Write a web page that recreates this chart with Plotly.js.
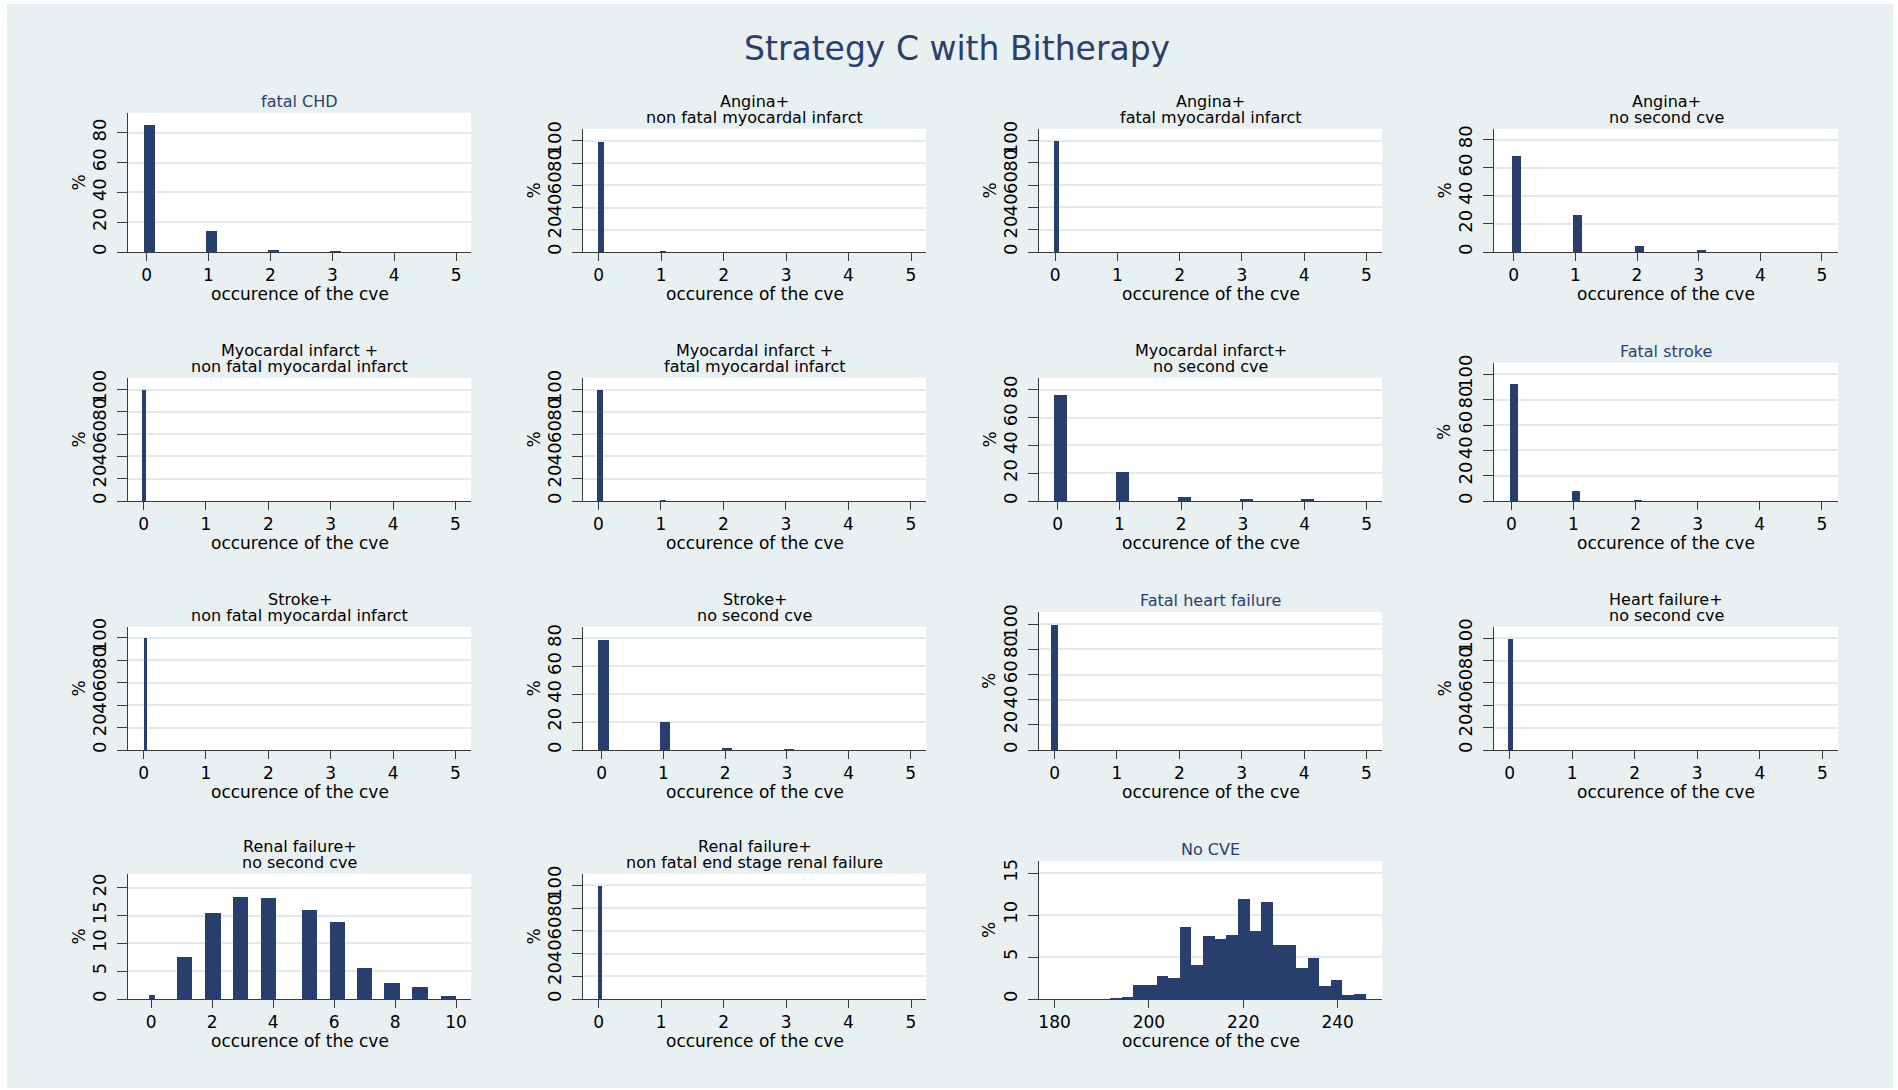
<!DOCTYPE html>
<html>
<head>
<meta charset="utf-8">
<script src="https://cdn.plot.ly/plotly-3.0.1.min.js"></script>
<style>
  html, body { margin: 0; padding: 0; background: #ffffff; width: 1898px; height: 1090px; overflow: hidden; }
  #chart { position: absolute; left: 7px; top: 4px; width: 1886px; height: 1084px; }
</style>
</head>
<body>
<div id="chart"></div>
<script>
// ---------------- DATA ----------------
const mainTitle = "Strategy C with Bitherapy";
const xAxisLabel = "occurence of the cve";
const yAxisLabel = "%";

const occurrences = [0, 1, 2, 3, 4, 5];

const fatalCHD            = [85.0, 14.0, 1.2, 0.6, 0, 0];
const anginaNonFatalMI    = [98.8, 1.2, 0, 0, 0, 0];
const anginaFatalMI       = [99.7, 0.3, 0, 0, 0, 0];
const anginaNoSecond      = [68.4, 26.1, 4.6, 1.2, 0, 0];
const miNonFatalMI        = [99.6, 0.4, 0, 0, 0, 0];
const miFatalMI           = [99.5, 0.5, 0, 0, 0, 0];
const miNoSecond          = [76.3, 20.9, 2.6, 1.1, 1.1, 0];
const fatalStroke         = [92.5, 7.6, 1.0, 0, 0, 0];
const strokeNonFatalMI    = [99.7, 0.3, 0, 0, 0, 0];
const strokeNoSecond      = [78.5, 19.9, 1.7, 0.9, 0, 0];
const fatalHeartFailure   = [99.7, 0.3, 0, 0, 0, 0];
const heartFailureNoSecond= [99.6, 0.4, 0, 0, 0, 0];
const renalNonFatalESRF   = [99.7, 0.3, 0, 0, 0, 0];

// Renal failure + no second cve (bin positions)
const renalBins     = [0.04, 1.09, 2.03, 2.93, 3.85, 5.19, 6.10, 7.00, 7.90, 8.82, 9.74];
const renalNoSecond = [0.8, 7.6, 15.5, 18.3, 18.1, 16.0, 13.9, 5.6, 2.8, 2.2, 0.5];

// No CVE histogram (lower bin edges and percentages)
const noCveBinLow = [191.80, 194.26, 196.72, 199.18, 201.64, 204.10, 206.56, 209.02, 211.48, 213.94, 216.40,
                     218.86, 221.32, 223.78, 226.24, 228.70, 231.16, 233.62, 236.08, 238.54, 241.00, 243.46];
const noCvePct    = [0.16, 0.24, 1.63, 1.63, 2.70, 2.50, 8.53, 4.09, 7.46, 7.14, 7.66,
                     11.87, 8.13, 11.55, 6.47, 6.47, 3.65, 4.88, 1.50, 2.26, 0.48, 0.63];

const panelTitles = [
  ["fatal CHD"],
  ["Angina+", "non fatal myocardal infarct"],
  ["Angina+", "fatal myocardal infarct"],
  ["Angina+", "no second cve"],
  ["Myocardal infarct +", "non fatal myocardal infarct"],
  ["Myocardal infarct +", "fatal myocardal infarct"],
  ["Myocardal infarct+", "no second cve"],
  ["Fatal stroke"],
  ["Stroke+", "non fatal myocardal infarct"],
  ["Stroke+", "no second cve"],
  ["Fatal heart failure"],
  ["Heart failure+", "no second cve"],
  ["Renal failure+", "no second cve"],
  ["Renal failure+", "non fatal end stage renal failure"],
  ["No CVE"]
];

const xTicks05  = [0, 1, 2, 3, 4, 5];
const xTicks010 = [0, 2, 4, 6, 8, 10];
const xTicksCVE = [180, 200, 220, 240];
const yTicks80  = [0, 20, 40, 60, 80];
const yTicks100 = [0, 20, 40, 60, 80, 100];
const yTicks20  = [0, 5, 10, 15, 20];
const yTicks15  = [0, 5, 10, 15];

// ---------------- STYLE / LAYOUT ----------------
const BG = "#e8f0f2";
const BAR = "#283f6e";
const NAVY = "#2b3f6d";
const AXIS = "#3a3a3a";
const GRID = "#e2eaee";
const FONT = "DejaVu Sans, Arial, sans-serif";

const W = 1886, H = 1084, OX = 7, OY = 4;
const dx = px => (px - OX) / W;
const dy = py => 1 - (py - OY) / H;

// panel pixel boxes: [left, right, top, bottom]
const boxes = [
  [128, 471, 113, 252], [583, 926, 129, 252], [1039, 1382, 129, 252], [1494, 1838, 129, 252],
  [128, 471, 378, 501], [583, 926, 378, 501], [1039, 1382, 378, 501], [1494, 1838, 363, 501],
  [128, 471, 627, 750], [583, 926, 627, 750], [1039, 1382, 612, 750], [1494, 1838, 627, 750],
  [128, 471, 874, 999], [583, 926, 874, 999], [1039, 1382, 861, 999]
];

// panel specs: data, x values, bar width, shift, x range, x ticks, y range, y ticks, title color
const panels = [
  {y: fatalCHD,             x: occurrences, w: 0.17, s: 0.05, xr: [-0.30, 5.24], xt: xTicks05, yr: [0, 93.2],  yt: yTicks80,  navy: true},
  {y: anginaNonFatalMI,     x: occurrences, w: 0.10, s: 0.035,xr: [-0.25, 5.24], xt: xTicks05, yr: [0, 110.8], yt: yTicks100},
  {y: anginaFatalMI,        x: occurrences, w: 0.086,s: 0.025,xr: [-0.26, 5.25], xt: xTicks05, yr: [0, 110.5], yt: yTicks100},
  {y: anginaNoSecond,       x: occurrences, w: 0.15, s: 0.04, xr: [-0.32, 5.26], xt: xTicks05, yr: [0, 87.5],  yt: yTicks80},
  {y: miNonFatalMI,         x: occurrences, w: 0.07, s: 0.01, xr: [-0.25, 5.25], xt: xTicks05, yr: [0, 110.4], yt: yTicks100},
  {y: miFatalMI,            x: occurrences, w: 0.09, s: 0.03, xr: [-0.245,5.24], xt: xTicks05, yr: [0, 110.4], yt: yTicks100},
  {y: miNoSecond,           x: occurrences, w: 0.21, s: 0.05, xr: [-0.30, 5.25], xt: xTicks05, yr: [0, 88.4],  yt: yTicks80},
  {y: fatalStroke,          x: occurrences, w: 0.12, s: 0.04, xr: [-0.28, 5.26], xt: xTicks05, yr: [0, 109.0], yt: yTicks100, navy: true},
  {y: strokeNonFatalMI,     x: occurrences, w: 0.06, s: 0.03, xr: [-0.25, 5.25], xt: xTicks05, yr: [0, 109.5], yt: yTicks100},
  {y: strokeNoSecond,       x: occurrences, w: 0.17, s: 0.03, xr: [-0.30, 5.25], xt: xTicks05, yr: [0, 88.0],  yt: yTicks80},
  {y: fatalHeartFailure,    x: occurrences, w: 0.10, s: 0.00, xr: [-0.25, 5.25], xt: xTicks05, yr: [0, 109.7], yt: yTicks100, navy: true},
  {y: heartFailureNoSecond, x: occurrences, w: 0.08, s: 0.01, xr: [-0.25, 5.25], xt: xTicks05, yr: [0, 110.0], yt: yTicks100},
  {y: renalNoSecond,        x: renalBins,   w: renalBins.map((_, i) => i === 0 ? 0.2 : 0.5), s: 0, xr: [-0.76, 10.49], xt: xTicks010, yr: [0, 22.46], yt: yTicks20},
  {y: renalNonFatalESRF,    x: occurrences, w: 0.07, s: 0.02, xr: [-0.25, 5.24], xt: xTicks05, yr: [0, 110.0], yt: yTicks100},
  {y: noCvePct,             x: noCveBinLow, w: 2.46, s: 1.23, xr: [176.7, 249.4], xt: xTicksCVE, yr: [0, 16.43], yt: yTicks15, navy: true}
];

const traces = [];
const layout = {
  width: W, height: H,
  margin: {l: 0, r: 0, t: 0, b: 0, pad: 0},
  paper_bgcolor: BG,
  plot_bgcolor: "#ffffff",
  showlegend: false,
  bargap: 0,
  barmode: "overlay",
  font: {family: FONT, color: "#000000"},
  annotations: []
};

panels.forEach((p, i) => {
  const n = i + 1;
  const xa = n === 1 ? "xaxis" : "xaxis" + n;
  const ya = n === 1 ? "yaxis" : "yaxis" + n;
  const xr = n === 1 ? "x" : "x" + n;
  const yr = n === 1 ? "y" : "y" + n;
  const b = boxes[i];

  const widths = Array.isArray(p.w) ? p.w : p.x.map(() => p.w);
  const offsets = widths.map(w => p.s - w / 2);

  traces.push({
    type: "bar",
    x: p.x, y: p.y,
    width: widths,
    offset: offsets,
    xaxis: xr, yaxis: yr,
    marker: {color: BAR, line: {width: 0}},
    hoverinfo: "skip"
  });

  layout[xa] = {
    domain: [dx(b[0]), dx(b[1])],
    anchor: yr,
    range: p.xr,
    tickmode: "array", tickvals: p.xt, ticktext: p.xt.map(String),
    ticks: "outside", ticklen: 8, tickwidth: 1, tickcolor: AXIS,
    showline: true, linecolor: AXIS, linewidth: 1,
    showgrid: false, zeroline: false,
    tickfont: {family: FONT, size: 17, color: "#000000"},
    ticklabelstandoff: 0,
    fixedrange: true
  };
  layout[ya] = {
    domain: [dy(b[3]), dy(b[2])],
    anchor: xr,
    range: p.yr,
    tickmode: "array", tickvals: p.yt, ticktext: p.yt.map(String),
    tickangle: -90,
    ticks: "outside", ticklen: 10, tickwidth: 1, tickcolor: AXIS,
    showline: true, linecolor: AXIS, linewidth: 1,
    showgrid: true, gridcolor: GRID, gridwidth: 2,
    zeroline: false,
    tickfont: {family: FONT, size: 18, color: "#000000"},
    ticklabelstandoff: 4,
    fixedrange: true
  };

  // panel title lines
  const lines = panelTitles[i];
  lines.forEach((t, j) => {
    layout.annotations.push({
      text: t, showarrow: false,
      xref: xr + " domain", yref: yr + " domain",
      x: 0.5, y: 1, xanchor: "center", yanchor: "middle",
      yshift: 11.5 + (lines.length - 1 - j) * 16.5,
      font: {family: FONT, size: 16, color: p.navy ? NAVY : "#000000"}
    });
  });
  // x axis title
  layout.annotations.push({
    text: xAxisLabel, showarrow: false,
    xref: xr + " domain", yref: yr + " domain",
    x: 0.5, y: 0, xanchor: "center", yanchor: "middle", yshift: -42,
    font: {family: FONT, size: 17, color: "#000000"}
  });
  // y axis title
  layout.annotations.push({
    text: yAxisLabel, showarrow: false, textangle: -90,
    xref: xr + " domain", yref: yr + " domain",
    x: 0, y: 0.5, xanchor: "center", yanchor: "middle", xshift: -50,
    font: {family: FONT, size: 17, color: "#000000"}
  });
});

// main title
layout.annotations.push({
  text: mainTitle, showarrow: false,
  xref: "paper", yref: "paper",
  x: dx(957), y: dy(48), xanchor: "center", yanchor: "middle",
  font: {family: FONT, size: 33, color: NAVY}
});

Plotly.newPlot("chart", traces, layout, {displayModeBar: false, staticPlot: true});
</script>
</body>
</html>
